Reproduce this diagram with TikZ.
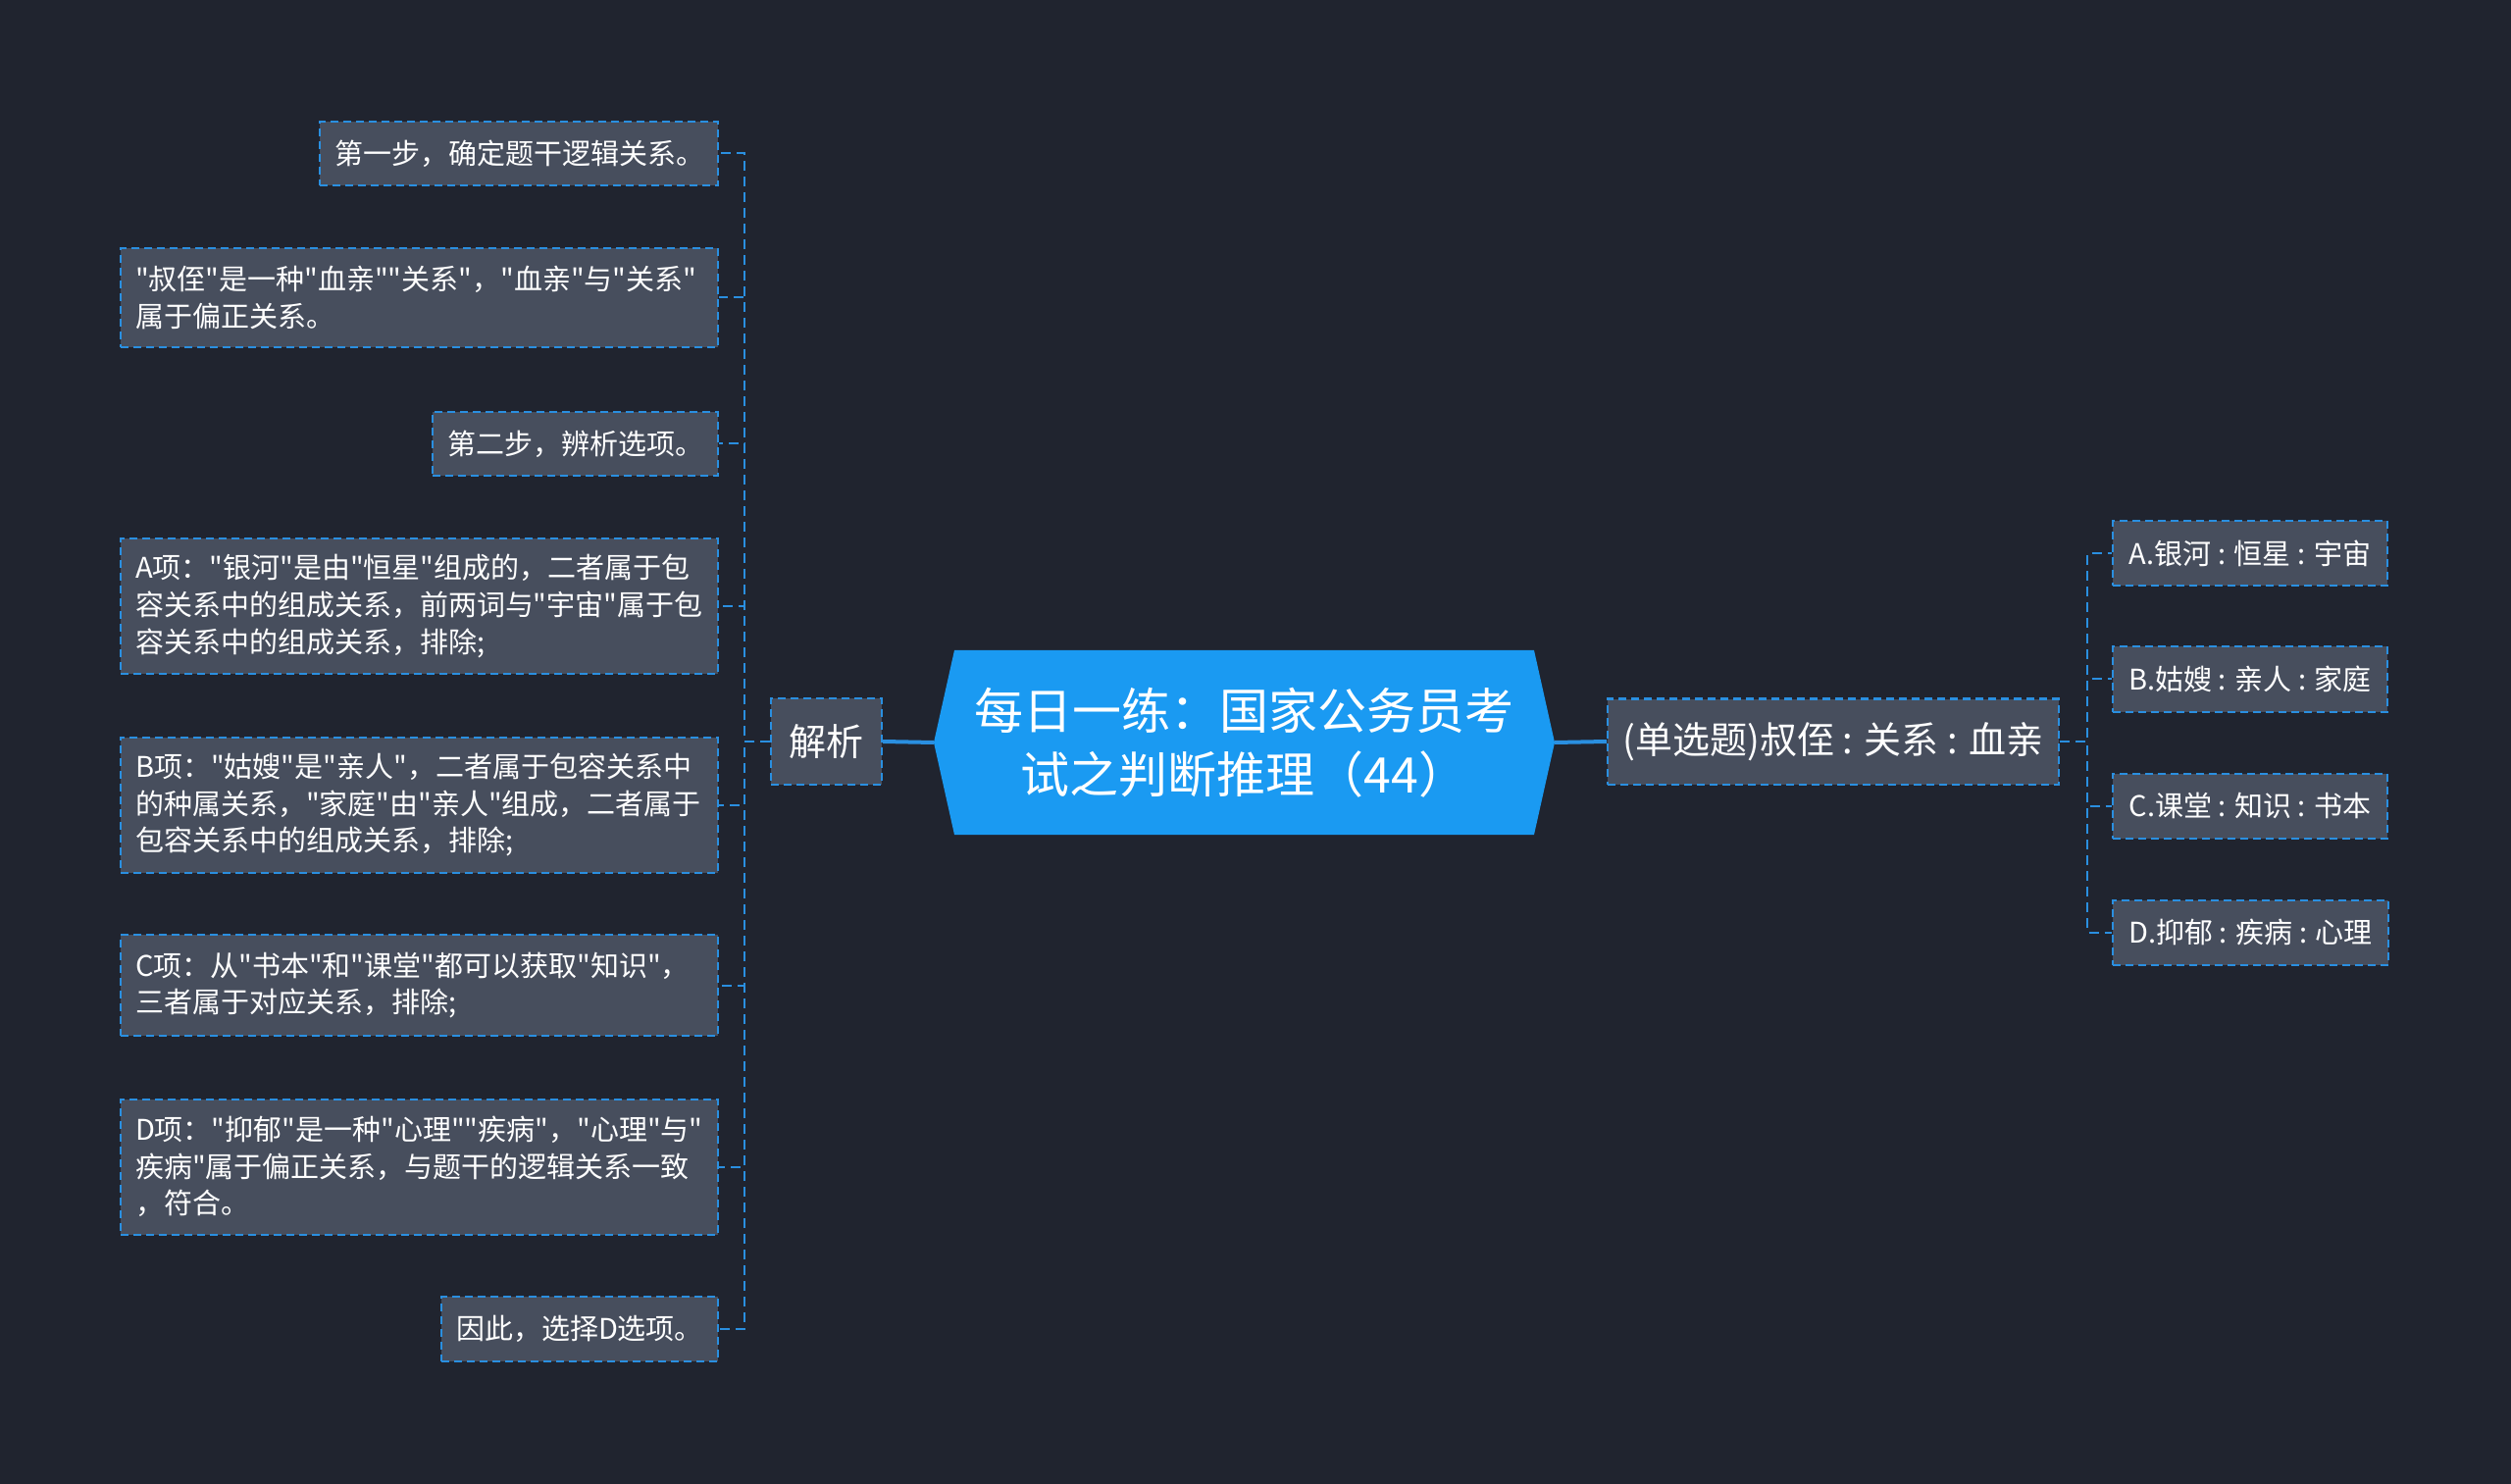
\documentclass[tikz,border=0pt]{standalone}
\usepackage{fontspec}
\setmainfont{Noto Sans CJK SC}[Ligatures=TeXOff]

\definecolor{fondo}{HTML}{20242F}
\definecolor{cajagris}{HTML}{474E5D}
\definecolor{borde}{HTML}{2A8FE0}
\definecolor{central}{HTML}{1A9AF2}

\tikzset{
  caja/.style={draw=borde, fill=cajagris, dash pattern=on 4pt off 2.5pt, line width=1pt,
    text=white, inner xsep=7.5pt, inner ysep=3pt, font=\fontsize{14.5}{18.8}\selectfont},
  cajatexto/.style={caja, align=left, text width=#1},
  rama/.style={draw=borde, dash pattern=on 5pt off 3pt, line width=1pt},
  tronco/.style={draw=borde, line width=2pt}
}

\begin{document}
\begin{tikzpicture}[x=0.5pt,y=-0.5pt]

		% Fondo
		\fill[fondo] (0,0) rectangle (2560,1513);
		\useasboundingbox (0,0) rectangle (2560,1513);

		% Tema central
		\fill[central] (952,757) -- (973,663) -- (1564,663) -- (1585,757) -- (1564,851) -- (973,851) -- cycle;
		\node[text=white, align=center, font=\fontsize{25}{32.6}\selectfont] (tema) at (1268.5,757) {每日一练：国家公务员考\\试之判断推理（44）};
		\coordinate (temaI) at (952,757);
		\coordinate (temaD) at (1585,757);

		% Nodos principales
		\node[caja, anchor=east, minimum height=44pt, minimum width=56.5pt, font=\fontsize{19}{22}\selectfont] (jiexi) at (900,756) {解析};
		\node[caja, anchor=west, minimum height=43.5pt, minimum width=230pt, font=\fontsize{19}{22}\selectfont] (pregunta) at (1638,756) {(单选题)叔侄 : 关系 : 血亲};

		% Opciones
		\node[caja, anchor=west, minimum height=33pt, minimum width=140pt] (opA) at (2153,564.5) {A.银河 : 恒星 : 宇宙};
		\node[caja, anchor=west, minimum height=33pt, minimum width=140pt] (opB) at (2153,692.5) {B.姑嫂 : 亲人 : 家庭};
		\node[caja, anchor=west, minimum height=33pt, minimum width=140pt] (opC) at (2153,821.5) {C.课堂 : 知识 : 书本};
		\node[caja, anchor=west, minimum height=33pt, minimum width=140.5pt] (opD) at (2153,950.5) {D.抑郁 : 疾病 : 心理};

		% Analisis
		\node[cajatexto=188pt, anchor=east, minimum height=32.5pt] (paso1) at (733,156.5) {第一步，确定题干逻辑关系。};
		\node[cajatexto=289.5pt, anchor=east, minimum height=50.5pt] (relacion) at (733,303.5) {"叔侄"是一种"血亲""关系"，"血亲"与"关系"\\属于偏正关系。};
		\node[cajatexto=130.5pt, anchor=east, minimum height=32.5pt] (paso2) at (733,452.5) {第二步，辨析选项。};
		\node[cajatexto=289.5pt, anchor=east, minimum height=69pt] (anA) at (733,618) {A项："银河"是由"恒星"组成的，二者属于包\\容关系中的组成关系，前两词与"宇宙"属于包\\容关系中的组成关系，排除;};
		\node[cajatexto=289.5pt, anchor=east, minimum height=69pt] (anB) at (733,820.5) {B项："姑嫂"是"亲人"，二者属于包容关系中\\的种属关系，"家庭"由"亲人"组成，二者属于\\包容关系中的组成关系，排除;};
		\node[cajatexto=289.5pt, anchor=east, minimum height=51.5pt] (anC) at (733,1004.5) {C项：从"书本"和"课堂"都可以获取"知识"，\\三者属于对应关系，排除;};
		\node[cajatexto=289.5pt, anchor=east, minimum height=69pt] (anD) at (733,1189.5) {D项："抑郁"是一种"心理""疾病"，"心理"与"\\疾病"属于偏正关系，与题干的逻辑关系一致\\，符合。};
		\node[cajatexto=126pt, anchor=east, minimum height=33pt] (conclusion) at (733,1355) {因此，选择D选项。};

		% Conectores
		\draw[tronco] (jiexi.east) -- (temaI);
		\draw[tronco] (temaD) -- (pregunta.west);
		\foreach \n in {paso1,relacion,paso2,anA,anB,anC,anD,conclusion}
			\draw[rama] (jiexi.west) -- ++(-26,0) |- (\n.east);
		\foreach \n in {opA,opB,opC,opD}
			\draw[rama] (pregunta.east) -- ++(28,0) |- (\n.west);

	\end{tikzpicture}
\end{document}
